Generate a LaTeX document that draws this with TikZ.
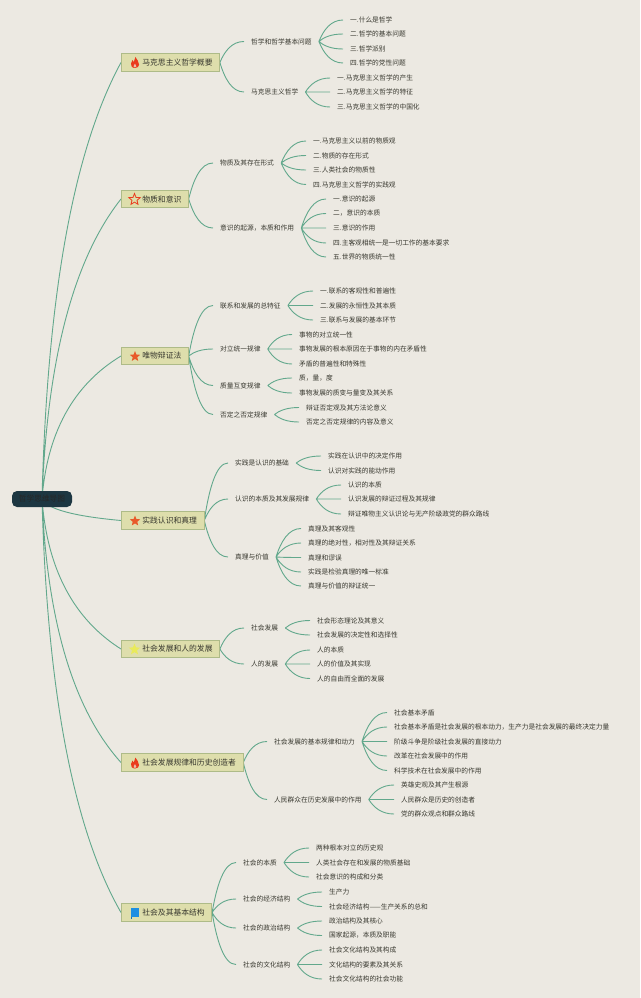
\documentclass[tikz,border=0pt]{standalone}
\usepackage{fontspec}
\usepackage{tikz}
\usetikzlibrary{arrows.meta, positioning, shapes.geometric, calc, backgrounds}
\setmainfont{Noto Sans CJK SC}

\definecolor{fond}{HTML}{ECE9E2}
\definecolor{vert}{HTML}{62A88C}
\definecolor{encre}{HTML}{38382F}
\definecolor{boite}{HTML}{DEDEAC}
\definecolor{bord}{HTML}{AEBB88}
\definecolor{nuit}{HTML}{1D3742}
\definecolor{rouge}{HTML}{EA3A1E}
\definecolor{orange}{HTML}{E85A2A}
\definecolor{jaune}{HTML}{E9EA5A}
\definecolor{bleu}{HTML}{1E8FE2}

\tikzset{
    racine/.style={fill=nuit, rounded corners=5pt, minimum width=60pt, minimum height=16pt, inner sep=0pt, text=black!85, font=\fontsize{7.7}{9}\selectfont},
    theme/.style={draw=bord, line width=.7pt, fill=boite, anchor=west, minimum height=17.5pt, inner ysep=0pt, inner xsep=7pt, text=encre, font=\fontsize{7.8}{9}\selectfont, execute at begin node={\hspace{14pt}}},
    sujet/.style={anchor=west, inner xsep=7pt, inner ysep=1pt, text=encre, font=\fontsize{6.72}{8}\selectfont},
    etoile/.style={star, star points=5, star point ratio=2.3, minimum size=11pt, inner sep=0pt},
    % courbe en S entre un parent et ses enfants
    lien/.style={color=vert, line width=.9pt, to path={let \p1=(\tikztostart), \p2=(\tikztotarget) in
        .. controls ({\x1+0.2*(\x2-\x1)},{\y1+0.55*(\y2-\y1)}) and ({\x1+0.5*(\x2-\x1)},{\y2}) .. (\p2)}},
    tronc/.style={color=vert, line width=.9pt, to path={let \p1=(\tikztostart), \p2=(\tikztotarget) in
        .. controls ({\x1+0.08*(\x2-\x1)},{\y1+0.57*(\y2-\y1)}) and ({\x1+0.55*(\x2-\x1)},{\y1+0.85*(\y2-\y1)}) .. (\p2)}},
    flamme/.pic={
        \fill[rouge] (0,5.5) .. controls (-3.2,5.5) and (-4.4,3.2) .. (-4,1)
            .. controls (-3.7,-0.6) and (-2.7,-1) .. (-2.5,-2.4)
            .. controls (-1.6,-1.8) and (-1.3,-1) .. (-1.2,-0.4)
            .. controls (-0.5,-1.8) and (-0.3,-4) .. (0.4,-5.5)
            .. controls (1.2,-3.6) and (4.2,-1.2) .. (4.1,2)
            .. controls (4,4.2) and (2.6,5.5) .. (0,5.5) -- cycle;
        \fill[fond!70!orange] (0,5) .. controls (-1.3,5) and (-1.7,3.8) .. (-1.2,3)
            .. controls (-0.8,2.3) and (-0.3,2) .. (0,1.2)
            .. controls (0.5,2) and (1.5,2.8) .. (1.4,3.8)
            .. controls (1.3,4.6) and (0.8,5) .. (0,5) -- cycle;
    }
}

\begin{document}
\begin{tikzpicture}[x=1pt, y=-1pt]

    % Racine de la carte
    \node[racine] (racine) at (42,499) {哲学思维导图};

    % Niveau 1 : les themes
    \node[theme] (t1) at (121,62.5) {马克思主义哲学概要};
    \node[theme] (t2) at (121,199) {物质和意识};
    \node[theme] (t3) at (121,356) {唯物辩证法};
    \node[theme] (t4) at (121,520.5) {实践认识和真理};
    \node[theme] (t5) at (121,649) {社会发展和人的发展};
    \node[theme] (t6) at (121,762.5) {社会发展规律和历史创造者};
    \node[theme] (t7) at (121,912.5) {社会及其基本结构};

    % Icones des themes
    \pic (i1) at (135,62.5) {flamme};
    \node[etoile, draw=rouge, line width=.8pt, minimum size=12pt] (i2) at (134.5,199.5) {};
    \node[etoile, fill=orange] (i3) at (135,356.5) {};
    \node[etoile, fill=orange] (i4) at (135,521) {};
    \node[etoile, fill=jaune, minimum size=12pt] (i5) at (134.5,649.5) {};
    \pic (i6) at (135,763) {flamme};
    \fill[bleu] (130.5,908) rectangle (139,916.5);
    \fill[bleu!80!black] (130.5,916.5) rectangle (131.5,918.5);

    % Theme 1
    \node[sujet] (a) at (244,41.5) {哲学和哲学基本问题};
    \node[sujet] (a1) at (343,20) {一.什么是哲学};
    \node[sujet] (a2) at (343,34) {二.哲学的基本问题};
    \node[sujet] (a3) at (343,49) {三.哲学派别};
    \node[sujet] (a4) at (343,63) {四.哲学的党性问题};
    \node[sujet] (b) at (244,92) {马克思主义哲学};
    \node[sujet] (b1) at (330,78) {一.马克思主义哲学的产生};
    \node[sujet] (b2) at (330,92) {二.马克思主义哲学的特征};
    \node[sujet] (b3) at (330,107) {三.马克思主义哲学的中国化};

    % Theme 2
    \node[sujet] (c) at (213,163) {物质及其存在形式};
    \node[sujet] (c1) at (306,141) {一.马克思主义以前的物质观};
    \node[sujet] (c2) at (306,155.5) {二.物质的存在形式};
    \node[sujet] (c3) at (306,170) {三.人类社会的物质性};
    \node[sujet] (c4) at (306,184.5) {四.马克思主义哲学的实践观};
    \node[sujet] (d) at (213,228) {意识的起源，本质和作用};
    \node[sujet] (d1) at (326,199) {一.意识的起源};
    \node[sujet] (d2) at (326,213.5) {二，意识的本质};
    \node[sujet] (d3) at (326,228) {三.意识的作用};
    \node[sujet] (d4) at (326,243) {四.主客观相统一是一切工作的基本要求};
    \node[sujet] (d5) at (326,257) {五.世界的物质统一性};

    % Theme 3
    \node[sujet] (e) at (213,305.5) {联系和发展的总特征};
    \node[sujet] (e1) at (313,291) {一.联系的客观性和普遍性};
    \node[sujet] (e2) at (313,305.5) {二.发展的永恒性及其本质};
    \node[sujet] (e3) at (313,320) {三.联系与发展的基本环节};
    \node[sujet] (f) at (213,349) {对立统一规律};
    \node[sujet] (f1) at (292,334.5) {事物的对立统一性};
    \node[sujet] (f2) at (292,349) {事物发展的根本原因在于事物的内在矛盾性};
    \node[sujet] (f3) at (292,364) {矛盾的普遍性和特殊性};
    \node[sujet] (g) at (213,385.5) {质量互变规律};
    \node[sujet] (g1) at (292,378) {质，量，度};
    \node[sujet] (g2) at (292,393) {事物发展的质变与量变及其关系};
    \node[sujet] (h) at (213,414.5) {否定之否定规律};
    \node[sujet] (h1) at (299,407.5) {辩证否定观及其方法论意义};
    \node[sujet] (h2) at (299,422) {否定之否定规律的内容及意义};

    % Theme 4
    \node[sujet] (k) at (228,463) {实践是认识的基础};
    \node[sujet] (k1) at (321,456) {实践在认识中的决定作用};
    \node[sujet] (k2) at (321,470.5) {认识对实践的能动作用};
    \node[sujet] (l) at (228,499) {认识的本质及其发展规律};
    \node[sujet] (l1) at (341,485) {认识的本质};
    \node[sujet] (l2) at (341,499) {认识发展的辩证过程及其规律};
    \node[sujet] (l3) at (341,514) {辩证唯物主义认识论与无产阶级政党的群众路线};
    \node[sujet] (m) at (228,557) {真理与价值};
    \node[sujet] (m1) at (301,528.5) {真理及其客观性};
    \node[sujet] (m2) at (301,543) {真理的绝对性，相对性及其辩证关系};
    \node[sujet] (m3) at (301,557.5) {真理和谬误};
    \node[sujet] (m4) at (301,572) {实践是检验真理的唯一标准};
    \node[sujet] (m5) at (301,586) {真理与价值的辩证统一};

    % Theme 5
    \node[sujet] (n) at (244,628) {社会发展};
    \node[sujet] (n1) at (310,620.5) {社会形态理论及其意义};
    \node[sujet] (n2) at (310,635) {社会发展的决定性和选择性};
    \node[sujet] (o) at (244,664) {人的发展};
    \node[sujet] (o1) at (310,650) {人的本质};
    \node[sujet] (o2) at (310,664) {人的价值及其实现};
    \node[sujet] (o3) at (310,678.5) {人的自由而全面的发展};

    % Theme 6
    \node[sujet] (p) at (267,741.5) {社会发展的基本规律和动力};
    \node[sujet] (p1) at (387,712.5) {社会基本矛盾};
    \node[sujet] (p2) at (387,727) {社会基本矛盾是社会发展的根本动力，生产力是社会发展的最终决定力量};
    \node[sujet] (p3) at (387,741.5) {阶级斗争是阶级社会发展的直接动力};
    \node[sujet] (p4) at (387,756) {改革在社会发展中的作用};
    \node[sujet] (p5) at (387,770.5) {科学技术在社会发展中的作用};
    \node[sujet] (q) at (267,799.5) {人民群众在历史发展中的作用};
    \node[sujet] (q1) at (394,785) {英雄史观及其产生根源};
    \node[sujet] (q2) at (394,799.5) {人民群众是历史的创造者};
    \node[sujet] (q3) at (394,814) {党的群众观点和群众路线};

    % Theme 7
    \node[sujet] (r) at (236,862.5) {社会的本质};
    \node[sujet] (r1) at (309,848) {两种根本对立的历史观};
    \node[sujet] (r2) at (309,862.5) {人类社会存在和发展的物质基础};
    \node[sujet] (r3) at (309,877) {社会意识的构成和分类};
    \node[sujet] (s) at (236,899) {社会的经济结构};
    \node[sujet] (s1) at (322,892) {生产力};
    \node[sujet] (s2) at (322,906.5) {社会经济结构——生产关系的总和};
    \node[sujet] (u) at (236,928) {社会的政治结构};
    \node[sujet] (u1) at (322,921) {政治结构及其核心};
    \node[sujet] (u2) at (322,935.5) {国家起源，本质及职能};
    \node[sujet] (v) at (236,964.5) {社会的文化结构};
    \node[sujet] (v1) at (322,950) {社会文化结构及其构成};
    \node[sujet] (v2) at (322,964.5) {文化结构的要素及其关系};
    \node[sujet] (v3) at (322,979) {社会文化结构的社会功能};

    % Les liens, sous les boites
    \begin{scope}[on background layer]
        \fill[fond] (0,0) rectangle (640,998);
        \draw[tronc] (racine.center) to (t1.west) (racine.center) to (t2.west) (racine.center) to (t3.west) (racine.center) to (t4.west) (racine.center) to (t5.west) (racine.center) to (t6.west) (racine.center) to (t7.west);
        \draw[lien] (t1.east) to (a.west) (t1.east) to (b.west);
        \draw[lien] (a.east) to (a1.west) (a.east) to (a2.west) (a.east) to (a3.west) (a.east) to (a4.west);
        \draw[lien] (b.east) to (b1.west) (b.east) to (b2.west) (b.east) to (b3.west);
        \draw[lien] (t2.east) to (c.west) (t2.east) to (d.west);
        \draw[lien] (c.east) to (c1.west) (c.east) to (c2.west) (c.east) to (c3.west) (c.east) to (c4.west);
        \draw[lien] (d.east) to (d1.west) (d.east) to (d2.west) (d.east) to (d3.west) (d.east) to (d4.west) (d.east) to (d5.west);
        \draw[lien] (t3.east) to (e.west) (t3.east) to (f.west) (t3.east) to (g.west) (t3.east) to (h.west);
        \draw[lien] (e.east) to (e1.west) (e.east) to (e2.west) (e.east) to (e3.west);
        \draw[lien] (f.east) to (f1.west) (f.east) to (f2.west) (f.east) to (f3.west);
        \draw[lien] (g.east) to (g1.west) (g.east) to (g2.west);
        \draw[lien] (h.east) to (h1.west) (h.east) to (h2.west);
        \draw[lien] (t4.east) to (k.west) (t4.east) to (l.west) (t4.east) to (m.west);
        \draw[lien] (k.east) to (k1.west) (k.east) to (k2.west);
        \draw[lien] (l.east) to (l1.west) (l.east) to (l2.west) (l.east) to (l3.west);
        \draw[lien] (m.east) to (m1.west) (m.east) to (m2.west) (m.east) to (m3.west) (m.east) to (m4.west) (m.east) to (m5.west);
        \draw[lien] (t5.east) to (n.west) (t5.east) to (o.west);
        \draw[lien] (n.east) to (n1.west) (n.east) to (n2.west);
        \draw[lien] (o.east) to (o1.west) (o.east) to (o2.west) (o.east) to (o3.west);
        \draw[lien] (t6.east) to (p.west) (t6.east) to (q.west);
        \draw[lien] (p.east) to (p1.west) (p.east) to (p2.west) (p.east) to (p3.west) (p.east) to (p4.west) (p.east) to (p5.west);
        \draw[lien] (q.east) to (q1.west) (q.east) to (q2.west) (q.east) to (q3.west);
        \draw[lien] (t7.east) to (r.west) (t7.east) to (s.west) (t7.east) to (u.west) (t7.east) to (v.west);
        \draw[lien] (r.east) to (r1.west) (r.east) to (r2.west) (r.east) to (r3.west);
        \draw[lien] (s.east) to (s1.west) (s.east) to (s2.west);
        \draw[lien] (u.east) to (u1.west) (u.east) to (u2.west);
        \draw[lien] (v.east) to (v1.west) (v.east) to (v2.west) (v.east) to (v3.west);
    \end{scope}

\end{tikzpicture}
\end{document}
